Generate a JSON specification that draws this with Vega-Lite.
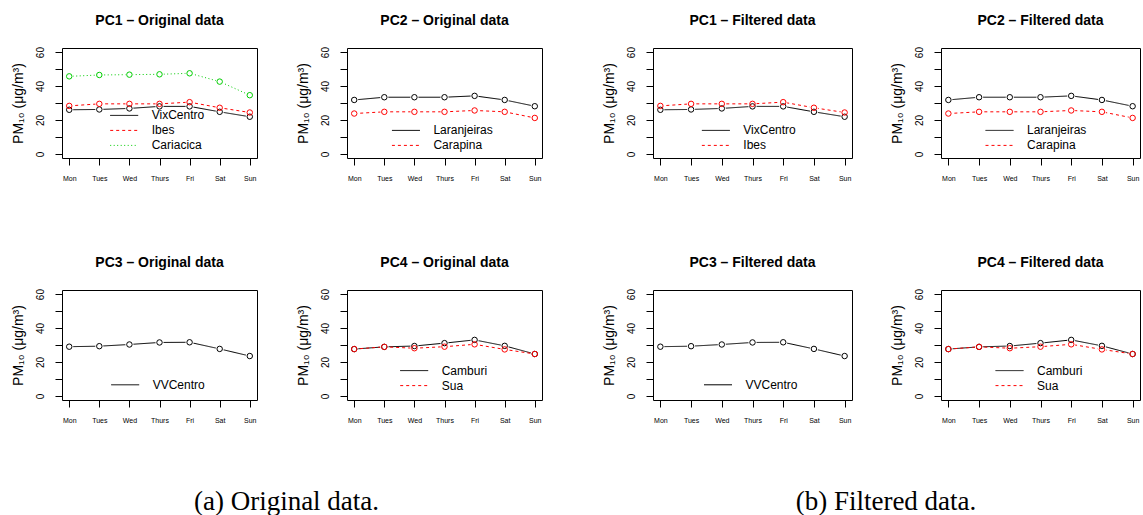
{
"$schema": "https://vega.github.io/schema/vega-lite/v6.json",
"padding": {"left": 10, "top": 13, "right": 0, "bottom": 0},
"autosize": {"type": "pad"},
"background": "white",
"data": {"values": [
{"g":"Original","pc":"PC1","station":"VixCentro","day":"Mon","pm":26.0},
{"g":"Original","pc":"PC1","station":"VixCentro","day":"Tues","pm":26.2},
{"g":"Original","pc":"PC1","station":"VixCentro","day":"Wed","pm":26.8},
{"g":"Original","pc":"PC1","station":"VixCentro","day":"Thurs","pm":28.0},
{"g":"Original","pc":"PC1","station":"VixCentro","day":"Fri","pm":28.0},
{"g":"Original","pc":"PC1","station":"VixCentro","day":"Sat","pm":24.8},
{"g":"Original","pc":"PC1","station":"VixCentro","day":"Sun","pm":21.9},
{"g":"Original","pc":"PC1","station":"Ibes","day":"Mon","pm":28.3},
{"g":"Original","pc":"PC1","station":"Ibes","day":"Tues","pm":29.5},
{"g":"Original","pc":"PC1","station":"Ibes","day":"Wed","pm":29.5},
{"g":"Original","pc":"PC1","station":"Ibes","day":"Thurs","pm":29.5},
{"g":"Original","pc":"PC1","station":"Ibes","day":"Fri","pm":30.5},
{"g":"Original","pc":"PC1","station":"Ibes","day":"Sat","pm":27.2},
{"g":"Original","pc":"PC1","station":"Ibes","day":"Sun","pm":24.4},
{"g":"Original","pc":"PC1","station":"Cariacica","day":"Mon","pm":45.7},
{"g":"Original","pc":"PC1","station":"Cariacica","day":"Tues","pm":46.5},
{"g":"Original","pc":"PC1","station":"Cariacica","day":"Wed","pm":46.7},
{"g":"Original","pc":"PC1","station":"Cariacica","day":"Thurs","pm":46.9},
{"g":"Original","pc":"PC1","station":"Cariacica","day":"Fri","pm":47.5},
{"g":"Original","pc":"PC1","station":"Cariacica","day":"Sat","pm":42.6},
{"g":"Original","pc":"PC1","station":"Cariacica","day":"Sun","pm":34.6},
{"g":"Original","pc":"PC2","station":"Laranjeiras","day":"Mon","pm":31.8},
{"g":"Original","pc":"PC2","station":"Laranjeiras","day":"Tues","pm":33.4},
{"g":"Original","pc":"PC2","station":"Laranjeiras","day":"Wed","pm":33.4},
{"g":"Original","pc":"PC2","station":"Laranjeiras","day":"Thurs","pm":33.4},
{"g":"Original","pc":"PC2","station":"Laranjeiras","day":"Fri","pm":34.2},
{"g":"Original","pc":"PC2","station":"Laranjeiras","day":"Sat","pm":31.8},
{"g":"Original","pc":"PC2","station":"Laranjeiras","day":"Sun","pm":28.1},
{"g":"Original","pc":"PC2","station":"Carapina","day":"Mon","pm":23.8},
{"g":"Original","pc":"PC2","station":"Carapina","day":"Tues","pm":24.8},
{"g":"Original","pc":"PC2","station":"Carapina","day":"Wed","pm":24.8},
{"g":"Original","pc":"PC2","station":"Carapina","day":"Thurs","pm":24.8},
{"g":"Original","pc":"PC2","station":"Carapina","day":"Fri","pm":25.6},
{"g":"Original","pc":"PC2","station":"Carapina","day":"Sat","pm":24.8},
{"g":"Original","pc":"PC2","station":"Carapina","day":"Sun","pm":21.2},
{"g":"Original","pc":"PC3","station":"VVCentro","day":"Mon","pm":29.0},
{"g":"Original","pc":"PC3","station":"VVCentro","day":"Tues","pm":29.3},
{"g":"Original","pc":"PC3","station":"VVCentro","day":"Wed","pm":30.3},
{"g":"Original","pc":"PC3","station":"VVCentro","day":"Thurs","pm":31.5},
{"g":"Original","pc":"PC3","station":"VVCentro","day":"Fri","pm":31.6},
{"g":"Original","pc":"PC3","station":"VVCentro","day":"Sat","pm":27.7},
{"g":"Original","pc":"PC3","station":"VVCentro","day":"Sun","pm":23.5},
{"g":"Original","pc":"PC4","station":"Camburi","day":"Mon","pm":27.6},
{"g":"Original","pc":"PC4","station":"Camburi","day":"Tues","pm":28.9},
{"g":"Original","pc":"PC4","station":"Camburi","day":"Wed","pm":29.4},
{"g":"Original","pc":"PC4","station":"Camburi","day":"Thurs","pm":31.1},
{"g":"Original","pc":"PC4","station":"Camburi","day":"Fri","pm":33.0},
{"g":"Original","pc":"PC4","station":"Camburi","day":"Sat","pm":29.5},
{"g":"Original","pc":"PC4","station":"Camburi","day":"Sun","pm":24.7},
{"g":"Original","pc":"PC4","station":"Sua","day":"Mon","pm":27.6},
{"g":"Original","pc":"PC4","station":"Sua","day":"Tues","pm":28.9},
{"g":"Original","pc":"PC4","station":"Sua","day":"Wed","pm":28.1},
{"g":"Original","pc":"PC4","station":"Sua","day":"Thurs","pm":29.0},
{"g":"Original","pc":"PC4","station":"Sua","day":"Fri","pm":30.4},
{"g":"Original","pc":"PC4","station":"Sua","day":"Sat","pm":27.4},
{"g":"Original","pc":"PC4","station":"Sua","day":"Sun","pm":24.7},
{"g":"Filtered","pc":"PC1","station":"VixCentro","day":"Mon","pm":26.0},
{"g":"Filtered","pc":"PC1","station":"VixCentro","day":"Tues","pm":26.2},
{"g":"Filtered","pc":"PC1","station":"VixCentro","day":"Wed","pm":26.8},
{"g":"Filtered","pc":"PC1","station":"VixCentro","day":"Thurs","pm":28.0},
{"g":"Filtered","pc":"PC1","station":"VixCentro","day":"Fri","pm":28.0},
{"g":"Filtered","pc":"PC1","station":"VixCentro","day":"Sat","pm":24.8},
{"g":"Filtered","pc":"PC1","station":"VixCentro","day":"Sun","pm":21.9},
{"g":"Filtered","pc":"PC1","station":"Ibes","day":"Mon","pm":28.3},
{"g":"Filtered","pc":"PC1","station":"Ibes","day":"Tues","pm":29.5},
{"g":"Filtered","pc":"PC1","station":"Ibes","day":"Wed","pm":29.5},
{"g":"Filtered","pc":"PC1","station":"Ibes","day":"Thurs","pm":29.5},
{"g":"Filtered","pc":"PC1","station":"Ibes","day":"Fri","pm":30.5},
{"g":"Filtered","pc":"PC1","station":"Ibes","day":"Sat","pm":27.2},
{"g":"Filtered","pc":"PC1","station":"Ibes","day":"Sun","pm":24.4},
{"g":"Filtered","pc":"PC2","station":"Laranjeiras","day":"Mon","pm":31.8},
{"g":"Filtered","pc":"PC2","station":"Laranjeiras","day":"Tues","pm":33.4},
{"g":"Filtered","pc":"PC2","station":"Laranjeiras","day":"Wed","pm":33.4},
{"g":"Filtered","pc":"PC2","station":"Laranjeiras","day":"Thurs","pm":33.4},
{"g":"Filtered","pc":"PC2","station":"Laranjeiras","day":"Fri","pm":34.2},
{"g":"Filtered","pc":"PC2","station":"Laranjeiras","day":"Sat","pm":31.8},
{"g":"Filtered","pc":"PC2","station":"Laranjeiras","day":"Sun","pm":28.1},
{"g":"Filtered","pc":"PC2","station":"Carapina","day":"Mon","pm":23.8},
{"g":"Filtered","pc":"PC2","station":"Carapina","day":"Tues","pm":24.8},
{"g":"Filtered","pc":"PC2","station":"Carapina","day":"Wed","pm":24.8},
{"g":"Filtered","pc":"PC2","station":"Carapina","day":"Thurs","pm":24.8},
{"g":"Filtered","pc":"PC2","station":"Carapina","day":"Fri","pm":25.6},
{"g":"Filtered","pc":"PC2","station":"Carapina","day":"Sat","pm":24.8},
{"g":"Filtered","pc":"PC2","station":"Carapina","day":"Sun","pm":21.2},
{"g":"Filtered","pc":"PC3","station":"VVCentro","day":"Mon","pm":29.0},
{"g":"Filtered","pc":"PC3","station":"VVCentro","day":"Tues","pm":29.3},
{"g":"Filtered","pc":"PC3","station":"VVCentro","day":"Wed","pm":30.3},
{"g":"Filtered","pc":"PC3","station":"VVCentro","day":"Thurs","pm":31.5},
{"g":"Filtered","pc":"PC3","station":"VVCentro","day":"Fri","pm":31.6},
{"g":"Filtered","pc":"PC3","station":"VVCentro","day":"Sat","pm":27.7},
{"g":"Filtered","pc":"PC3","station":"VVCentro","day":"Sun","pm":23.5},
{"g":"Filtered","pc":"PC4","station":"Camburi","day":"Mon","pm":27.6},
{"g":"Filtered","pc":"PC4","station":"Camburi","day":"Tues","pm":28.9},
{"g":"Filtered","pc":"PC4","station":"Camburi","day":"Wed","pm":29.4},
{"g":"Filtered","pc":"PC4","station":"Camburi","day":"Thurs","pm":31.1},
{"g":"Filtered","pc":"PC4","station":"Camburi","day":"Fri","pm":33.0},
{"g":"Filtered","pc":"PC4","station":"Camburi","day":"Sat","pm":29.5},
{"g":"Filtered","pc":"PC4","station":"Camburi","day":"Sun","pm":24.7},
{"g":"Filtered","pc":"PC4","station":"Sua","day":"Mon","pm":27.6},
{"g":"Filtered","pc":"PC4","station":"Sua","day":"Tues","pm":28.9},
{"g":"Filtered","pc":"PC4","station":"Sua","day":"Wed","pm":28.1},
{"g":"Filtered","pc":"PC4","station":"Sua","day":"Thurs","pm":29.0},
{"g":"Filtered","pc":"PC4","station":"Sua","day":"Fri","pm":30.4},
{"g":"Filtered","pc":"PC4","station":"Sua","day":"Sat","pm":27.4},
{"g":"Filtered","pc":"PC4","station":"Sua","day":"Sun","pm":24.7}
]},
"spacing": 58,
"resolve": {"scale": {"color": "independent", "strokeDash": "independent", "x": "independent", "y": "independent"}, "legend": {"color": "independent", "strokeDash": "independent"}},
"hconcat": [
{
"title": {"text": "(a) Original data.", "orient": "bottom", "font": "Liberation Serif", "fontSize": 27, "fontWeight": "normal", "baseline": "alphabetic", "offset": 86, "anchor": "middle", "dx": 10},
"columns": 2, "spacing": {"row": 132, "column": 90}, "bounds": "flush",
"resolve": {"scale": {"color": "independent", "strokeDash": "independent", "x": "independent", "y": "independent"}, "legend": {"color": "independent", "strokeDash": "independent"}},
"concat": [
{"width": 195, "height": 110, "title": "PC1 – Original data",
 "transform": [{"filter": "datum.g == 'Original' && datum.pc == 'PC1'"}],
 "encoding": {
  "x": {"field": "day", "type": "ordinal", "sort": ["Mon","Tues","Wed","Thurs","Fri","Sat","Sun"], "scale": {"type": "point", "padding": 0.24}, "title": null},
  "y": {"field": "pm", "type": "quantitative", "scale": {"domain": [-2.4, 62.4], "nice": false, "zero": false}, "axis": {"values": [0,10,20,30,40,50,60]}, "title": "PM₁₀ (μg/m³)"}},
 "layer": [
  {"mark": {"type": "line", "strokeWidth": 1}, "encoding": {
    "color": {"field": "station", "type": "nominal", "scale": {"domain": ["VixCentro","Ibes","Cariacica"], "range": ["#000000","#FF0000","#00CD00"]}, "legend": {"legendX": 47.7, "legendY": 60.2}},
    "strokeDash": {"field": "station", "type": "nominal", "scale": {"domain": ["VixCentro","Ibes","Cariacica"], "range": [[1,0],[3,3],[1,2.5]]}, "legend": {"legendX": 47.7, "legendY": 60.2}}}},
  {"mark": {"type": "point", "filled": true, "color": "white", "size": 64, "strokeWidth": 0, "opacity": 1}, "encoding": {"detail": {"field": "station"}}},
  {"mark": {"type": "point", "filled": false, "size": 30, "strokeWidth": 1, "opacity": 1}, "encoding": {
    "color": {"field": "station", "type": "nominal", "scale": {"domain": ["VixCentro","Ibes","Cariacica"], "range": ["#000000","#FF0000","#00CD00"]}, "legend": {"legendX": 47.7, "legendY": 60.2}}}}
 ]},
{"width": 195, "height": 110, "title": "PC2 – Original data",
 "transform": [{"filter": "datum.g == 'Original' && datum.pc == 'PC2'"}],
 "encoding": {
  "x": {"field": "day", "type": "ordinal", "sort": ["Mon","Tues","Wed","Thurs","Fri","Sat","Sun"], "scale": {"type": "point", "padding": 0.24}, "title": null},
  "y": {"field": "pm", "type": "quantitative", "scale": {"domain": [-2.4, 62.4], "nice": false, "zero": false}, "axis": {"values": [0,10,20,30,40,50,60]}, "title": "PM₁₀ (μg/m³)"}},
 "layer": [
  {"mark": {"type": "line", "strokeWidth": 1}, "encoding": {
    "color": {"field": "station", "type": "nominal", "scale": {"domain": ["Laranjeiras","Carapina"], "range": ["#000000","#FF0000"]}, "legend": {"legendX": 44.4, "legendY": 75.2}},
    "strokeDash": {"field": "station", "type": "nominal", "scale": {"domain": ["Laranjeiras","Carapina"], "range": [[1,0],[3,3]]}, "legend": {"legendX": 44.4, "legendY": 75.2}}}},
  {"mark": {"type": "point", "filled": true, "color": "white", "size": 64, "strokeWidth": 0, "opacity": 1}, "encoding": {"detail": {"field": "station"}}},
  {"mark": {"type": "point", "filled": false, "size": 30, "strokeWidth": 1, "opacity": 1}, "encoding": {
    "color": {"field": "station", "type": "nominal", "scale": {"domain": ["Laranjeiras","Carapina"], "range": ["#000000","#FF0000"]}, "legend": {"legendX": 44.4, "legendY": 75.2}}}}
 ]},
{"width": 195, "height": 110, "title": "PC3 – Original data",
 "transform": [{"filter": "datum.g == 'Original' && datum.pc == 'PC3'"}],
 "encoding": {
  "x": {"field": "day", "type": "ordinal", "sort": ["Mon","Tues","Wed","Thurs","Fri","Sat","Sun"], "scale": {"type": "point", "padding": 0.24}, "title": null},
  "y": {"field": "pm", "type": "quantitative", "scale": {"domain": [-2.4, 62.4], "nice": false, "zero": false}, "axis": {"values": [0,10,20,30,40,50,60]}, "title": "PM₁₀ (μg/m³)"}},
 "layer": [
  {"mark": {"type": "line", "strokeWidth": 1}, "encoding": {
    "color": {"field": "station", "type": "nominal", "scale": {"domain": ["VVCentro"], "range": ["#000000"]}, "legend": {"legendX": 48.7, "legendY": 87.6}},
    "strokeDash": {"field": "station", "type": "nominal", "scale": {"domain": ["VVCentro"], "range": [[1,0]]}, "legend": {"legendX": 48.7, "legendY": 87.6}}}},
  {"mark": {"type": "point", "filled": true, "color": "white", "size": 64, "strokeWidth": 0, "opacity": 1}, "encoding": {"detail": {"field": "station"}}},
  {"mark": {"type": "point", "filled": false, "size": 30, "strokeWidth": 1, "opacity": 1}, "encoding": {
    "color": {"field": "station", "type": "nominal", "scale": {"domain": ["VVCentro"], "range": ["#000000"]}, "legend": {"legendX": 48.7, "legendY": 87.6}}}}
 ]},
{"width": 195, "height": 110, "title": "PC4 – Original data",
 "transform": [{"filter": "datum.g == 'Original' && datum.pc == 'PC4'"}],
 "encoding": {
  "x": {"field": "day", "type": "ordinal", "sort": ["Mon","Tues","Wed","Thurs","Fri","Sat","Sun"], "scale": {"type": "point", "padding": 0.24}, "title": null},
  "y": {"field": "pm", "type": "quantitative", "scale": {"domain": [-2.4, 62.4], "nice": false, "zero": false}, "axis": {"values": [0,10,20,30,40,50,60]}, "title": "PM₁₀ (μg/m³)"}},
 "layer": [
  {"mark": {"type": "line", "strokeWidth": 1}, "encoding": {
    "color": {"field": "station", "type": "nominal", "scale": {"domain": ["Camburi","Sua"], "range": ["#000000","#FF0000"]}, "legend": {"legendX": 52.7, "legendY": 73.4}},
    "strokeDash": {"field": "station", "type": "nominal", "scale": {"domain": ["Camburi","Sua"], "range": [[1,0],[3,3]]}, "legend": {"legendX": 52.7, "legendY": 73.4}}}},
  {"mark": {"type": "point", "filled": true, "color": "white", "size": 64, "strokeWidth": 0, "opacity": 1}, "encoding": {"detail": {"field": "station"}}},
  {"mark": {"type": "point", "filled": false, "size": 30, "strokeWidth": 1, "opacity": 1}, "encoding": {
    "color": {"field": "station", "type": "nominal", "scale": {"domain": ["Camburi","Sua"], "range": ["#000000","#FF0000"]}, "legend": {"legendX": 52.7, "legendY": 73.4}}}}
 ]}
]},
{
"title": {"text": "(b) Filtered data.", "orient": "bottom", "font": "Liberation Serif", "fontSize": 27, "fontWeight": "normal", "baseline": "alphabetic", "offset": 86, "anchor": "middle", "dx": 15},
"columns": 2, "spacing": {"row": 132, "column": 89}, "bounds": "flush",
"resolve": {"scale": {"color": "independent", "strokeDash": "independent", "x": "independent", "y": "independent"}, "legend": {"color": "independent", "strokeDash": "independent"}},
"concat": [
{"width": 199, "height": 110, "title": "PC1 – Filtered data",
 "transform": [{"filter": "datum.g == 'Filtered' && datum.pc == 'PC1'"}],
 "encoding": {
  "x": {"field": "day", "type": "ordinal", "sort": ["Mon","Tues","Wed","Thurs","Fri","Sat","Sun"], "scale": {"type": "point", "padding": 0.24}, "title": null},
  "y": {"field": "pm", "type": "quantitative", "scale": {"domain": [-2.4, 62.4], "nice": false, "zero": false}, "axis": {"values": [0,10,20,30,40,50,60]}, "title": "PM₁₀ (μg/m³)"}},
 "layer": [
  {"mark": {"type": "line", "strokeWidth": 1}, "encoding": {
    "color": {"field": "station", "type": "nominal", "scale": {"domain": ["VixCentro","Ibes"], "range": ["#000000","#FF0000"]}, "legend": {"legendX": 48.3, "legendY": 75.2}},
    "strokeDash": {"field": "station", "type": "nominal", "scale": {"domain": ["VixCentro","Ibes"], "range": [[1,0],[3,3]]}, "legend": {"legendX": 48.3, "legendY": 75.2}}}},
  {"mark": {"type": "point", "filled": true, "color": "white", "size": 64, "strokeWidth": 0, "opacity": 1}, "encoding": {"detail": {"field": "station"}}},
  {"mark": {"type": "point", "filled": false, "size": 30, "strokeWidth": 1, "opacity": 1}, "encoding": {
    "color": {"field": "station", "type": "nominal", "scale": {"domain": ["VixCentro","Ibes"], "range": ["#000000","#FF0000"]}, "legend": {"legendX": 48.3, "legendY": 75.2}}}}
 ]},
{"width": 199, "height": 110, "title": "PC2 – Filtered data",
 "transform": [{"filter": "datum.g == 'Filtered' && datum.pc == 'PC2'"}],
 "encoding": {
  "x": {"field": "day", "type": "ordinal", "sort": ["Mon","Tues","Wed","Thurs","Fri","Sat","Sun"], "scale": {"type": "point", "padding": 0.24}, "title": null},
  "y": {"field": "pm", "type": "quantitative", "scale": {"domain": [-2.4, 62.4], "nice": false, "zero": false}, "axis": {"values": [0,10,20,30,40,50,60]}, "title": "PM₁₀ (μg/m³)"}},
 "layer": [
  {"mark": {"type": "line", "strokeWidth": 1}, "encoding": {
    "color": {"field": "station", "type": "nominal", "scale": {"domain": ["Laranjeiras","Carapina"], "range": ["#000000","#FF0000"]}, "legend": {"legendX": 44, "legendY": 75.2}},
    "strokeDash": {"field": "station", "type": "nominal", "scale": {"domain": ["Laranjeiras","Carapina"], "range": [[1,0],[3,3]]}, "legend": {"legendX": 44, "legendY": 75.2}}}},
  {"mark": {"type": "point", "filled": true, "color": "white", "size": 64, "strokeWidth": 0, "opacity": 1}, "encoding": {"detail": {"field": "station"}}},
  {"mark": {"type": "point", "filled": false, "size": 30, "strokeWidth": 1, "opacity": 1}, "encoding": {
    "color": {"field": "station", "type": "nominal", "scale": {"domain": ["Laranjeiras","Carapina"], "range": ["#000000","#FF0000"]}, "legend": {"legendX": 44, "legendY": 75.2}}}}
 ]},
{"width": 199, "height": 110, "title": "PC3 – Filtered data",
 "transform": [{"filter": "datum.g == 'Filtered' && datum.pc == 'PC3'"}],
 "encoding": {
  "x": {"field": "day", "type": "ordinal", "sort": ["Mon","Tues","Wed","Thurs","Fri","Sat","Sun"], "scale": {"type": "point", "padding": 0.24}, "title": null},
  "y": {"field": "pm", "type": "quantitative", "scale": {"domain": [-2.4, 62.4], "nice": false, "zero": false}, "axis": {"values": [0,10,20,30,40,50,60]}, "title": "PM₁₀ (μg/m³)"}},
 "layer": [
  {"mark": {"type": "line", "strokeWidth": 1}, "encoding": {
    "color": {"field": "station", "type": "nominal", "scale": {"domain": ["VVCentro"], "range": ["#000000"]}, "legend": {"legendX": 50.5, "legendY": 87.6}},
    "strokeDash": {"field": "station", "type": "nominal", "scale": {"domain": ["VVCentro"], "range": [[1,0]]}, "legend": {"legendX": 50.5, "legendY": 87.6}}}},
  {"mark": {"type": "point", "filled": true, "color": "white", "size": 64, "strokeWidth": 0, "opacity": 1}, "encoding": {"detail": {"field": "station"}}},
  {"mark": {"type": "point", "filled": false, "size": 30, "strokeWidth": 1, "opacity": 1}, "encoding": {
    "color": {"field": "station", "type": "nominal", "scale": {"domain": ["VVCentro"], "range": ["#000000"]}, "legend": {"legendX": 50.5, "legendY": 87.6}}}}
 ]},
{"width": 199, "height": 110, "title": "PC4 – Filtered data",
 "transform": [{"filter": "datum.g == 'Filtered' && datum.pc == 'PC4'"}],
 "encoding": {
  "x": {"field": "day", "type": "ordinal", "sort": ["Mon","Tues","Wed","Thurs","Fri","Sat","Sun"], "scale": {"type": "point", "padding": 0.24}, "title": null},
  "y": {"field": "pm", "type": "quantitative", "scale": {"domain": [-2.4, 62.4], "nice": false, "zero": false}, "axis": {"values": [0,10,20,30,40,50,60]}, "title": "PM₁₀ (μg/m³)"}},
 "layer": [
  {"mark": {"type": "line", "strokeWidth": 1}, "encoding": {
    "color": {"field": "station", "type": "nominal", "scale": {"domain": ["Camburi","Sua"], "range": ["#000000","#FF0000"]}, "legend": {"legendX": 54, "legendY": 73.4}},
    "strokeDash": {"field": "station", "type": "nominal", "scale": {"domain": ["Camburi","Sua"], "range": [[1,0],[3,3]]}, "legend": {"legendX": 54, "legendY": 73.4}}}},
  {"mark": {"type": "point", "filled": true, "color": "white", "size": 64, "strokeWidth": 0, "opacity": 1}, "encoding": {"detail": {"field": "station"}}},
  {"mark": {"type": "point", "filled": false, "size": 30, "strokeWidth": 1, "opacity": 1}, "encoding": {
    "color": {"field": "station", "type": "nominal", "scale": {"domain": ["Camburi","Sua"], "range": ["#000000","#FF0000"]}, "legend": {"legendX": 54, "legendY": 73.4}}}}
 ]}
]}
],
"config": {
 "font": "Liberation Sans",
 "view": {"stroke": "#000000", "strokeWidth": 1},
 "title": {"fontSize": 14, "fontWeight": "bold", "color": "#000000", "baseline": "alphabetic", "offset": 19, "anchor": "middle", "font": "Liberation Sans"},
 "axis": {"domain": false, "grid": false, "tickColor": "#000000", "tickSize": 7, "tickWidth": 1, "labelColor": "#000000", "titleColor": "#000000", "labelFont": "Liberation Sans", "titleFont": "Liberation Sans"},
 "axisX": {"labelFontSize": 7, "labelAngle": 0, "labelPadding": 9},
 "axisY": {"labelExpr": "datum.value % 20 == 0 ? datum.label : ''", "labelAngle": -90, "labelAlign": "center", "labelBaseline": "alphabetic", "labelFontSize": 10, "labelPadding": 12, "titleFontSize": 14, "titleFontWeight": "normal", "titlePadding": 10},
 "legend": {"orient": "none", "title": null, "symbolType": "stroke", "symbolSize": 784, "symbolStrokeWidth": 1, "labelOffset": 13, "labelFontSize": 12, "labelColor": "#000000", "labelFont": "Liberation Sans", "rowPadding": 0, "clipHeight": 14.4, "padding": 0, "labelLimit": 0}
}
}
